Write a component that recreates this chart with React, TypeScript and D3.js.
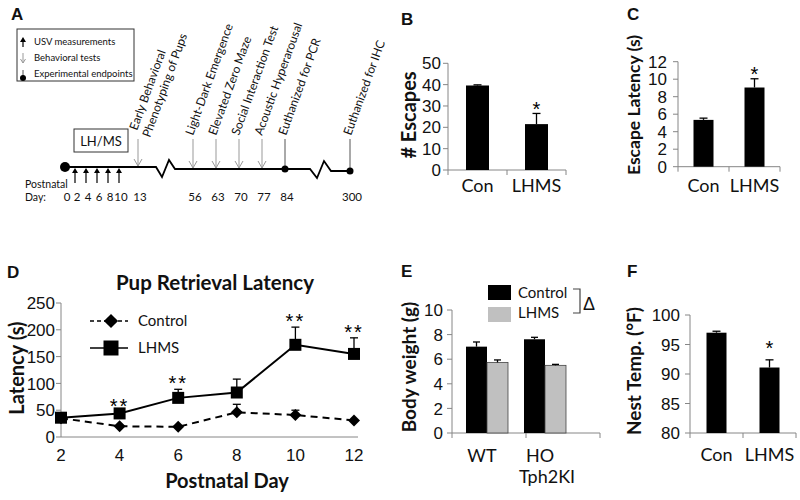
import React from "react";
import * as d3 from "d3";

// ---------- Panel A: timeline ----------
const legendItemsA = ["USV measurements", "Behavioral tests", "Experimental endpoints"];
const usvDays = [2, 4, 6, 8, 10];
const dayLabels = [0, 2, 4, 6, 8, 10, 13, 56, 63, 70, 77, 84, 300];
const testDays = [13, 56, 63, 70, 77];
const testLabels = [
  ["Early Behavioral", "Phenotyping of Pups"],
  ["Light-Dark Emergence"],
  ["Elevated Zero Maze"],
  ["Social Interaction Test"],
  ["Acoustic Hyperarousal"],
];
const endpointDays = [84, 300];
const endpointLabels = ["Euthanized for PCR", "Euthanized for IHC"];

// ---------- Panel B ----------
const bCategories = ["Con", "LHMS"];
const bValues = [39.6, 21.5];
const bErrors = [0.3, 5.0];
const bSig = ["", "*"];
const bTicks = [0, 10, 20, 30, 40, 50];

// ---------- Panel C ----------
const cCategories = ["Con", "LHMS"];
const cValues = [5.35, 9.05];
const cErrors = [0.2, 1.0];
const cSig = ["", "*"];
const cTicks = [0, 2, 4, 6, 8, 10, 12];

// ---------- Panel D ----------
const dDays = [2, 4, 6, 8, 10, 12];
const dControl = [35, 20, 19, 46, 41, 31];
const dControlErr = [0, 0, 0, 15, 9, 0];
const dLHMS = [36, 44, 73, 83, 172, 155];
const dLHMSErr = [0, 3, 16, 25, 33, 30];
const dSig = ["", "**", "**", "", "**", "**"];
const dYTicks = [0, 50, 100, 150, 200, 250];

// ---------- Panel E ----------
const eGroups = ["WT", "HO"];
const eSeries = ["Control", "LHMS"];
const eControl = [7.02, 7.62];
const eControlErr = [0.38, 0.16];
const eLHMS = [5.74, 5.5];
const eLHMSErr = [0.2, 0.08];
const eTicks = [0, 2, 4, 6, 8, 10];

// ---------- Panel F ----------
const fCategories = ["Con", "LHMS"];
const fValues = [97.0, 91.1];
const fErrors = [0.25, 1.3];
const fSig = ["", "*"];
const fTicks = [80, 85, 90, 95, 100];

const AX = "#868686";
const NUM = "'Liberation Sans', Arial, sans-serif";
const CAL = "Lato, 'Open Sans', sans-serif";

function ErrBar({ cx, y0, y1, w = 4 }: { cx: number; y0: number; y1: number; w?: number }) {
  return (
    <g stroke="#000" strokeWidth={1.3}>
      <line x1={cx} x2={cx} y1={y0} y2={y1} />
      <line x1={cx - w} x2={cx + w} y1={y1} y2={y1} />
    </g>
  );
}

function YAxis({ y, ticks, x0, gap, size = 17 }: any) {
  return (
    <g>
      <line x1={x0} x2={x0} y1={y(ticks[0])} y2={y(ticks[ticks.length - 1])} stroke={AX} />
      {ticks.map((t: number) => (
        <g key={t}>
          <line x1={x0 - 5} x2={x0} y1={y(t)} y2={y(t)} stroke={AX} />
          <text x={x0 - gap} y={y(t)} dy="0.36em" textAnchor="end" fontFamily={NUM} fontSize={size} fill="#111">
            {t}
          </text>
        </g>
      ))}
    </g>
  );
}

function SimpleBars({ cats, vals, errs, sig, ticks, y, x, barW, gap, catY, starGap, title, titleX, titleY, titleSize }: any) {
  const [x0, x1] = x.range();
  const base = y(ticks[0]);
  const bounds = [x0, ...cats.map((c: string) => x(c) + x.bandwidth())];
  return (
    <g>
      <YAxis y={y} ticks={ticks} x0={x0} gap={gap} />
      <line x1={x0} x2={x1} y1={base} y2={base} stroke={AX} />
      {bounds.map((b: number, i: number) => (
        <line key={i} x1={b} x2={b} y1={base} y2={base + 5} stroke={AX} />
      ))}
      {cats.map((c: string, i: number) => {
        const cx = x(c) + x.bandwidth() / 2;
        const top = y(vals[i]);
        const et = y(vals[i] + errs[i]);
        return (
          <g key={c}>
            <rect x={cx - barW / 2} y={top} width={barW} height={base - top} fill="#000" />
            <ErrBar cx={cx} y0={top} y1={et} />
            <text x={cx} y={catY} textAnchor="middle" fontFamily={CAL} fontSize={18} fill="#111">
              {c}
            </text>
            {sig[i] && (
              <text x={cx} y={et - starGap + 11} textAnchor="middle" fontFamily={NUM} fontSize={20}>
                {sig[i]}
              </text>
            )}
          </g>
        );
      })}
      <text
        transform={`translate(${titleX},${titleY}) rotate(-90)`}
        textAnchor="middle"
        fontFamily={CAL}
        fontWeight="bold"
        fontSize={titleSize}
        fill="#111"
      >
        {title}
      </text>
    </g>
  );
}

function PanelLetter({ x, y, t }: any) {
  return (
    <text x={x} y={y} fontFamily={NUM} fontWeight="bold" fontSize={17} fill="#111">
      {t}
    </text>
  );
}

export default function App() {
  // Panel A scale (broken timeline, piecewise)
  const tl = d3.scaleLinear().domain([0, 2, 10, 13, 56, 84, 300]).range([65, 75, 119, 138, 193, 285, 350]);
  const lineY = (d: number) => (d <= 13 ? 167 : d <= 84 ? 169 : 171);

  // B
  const yB = d3.scaleLinear().domain([0, 50]).range([170, 63.3]);
  const xB = d3.scaleBand<string>().domain(bCategories).range([448, 566]);
  // C
  const yC = d3.scaleLinear().domain([0, 12]).range([166.7, 61.7]);
  const xC = d3.scaleBand<string>().domain(cCategories).range([678, 780]);
  // F
  const yF = d3.scaleLinear().domain([80, 100]).range([433, 315]);
  const xF = d3.scaleBand<string>().domain(fCategories).range([690, 796]);
  // D
  const xD = d3.scaleLinear().domain([2, 12]).range([61, 354]);
  const yD = d3.scaleLinear().domain([0, 250]).range([437, 303]);
  const lineD = d3
    .line<number>()
    .x((_, i) => xD(dDays[i]))
    .y((v) => yD(v));
  const sq = d3.symbol(d3.symbolSquare, 144)()!;
  const dia = d3.symbol(d3.symbolSquare, 72)()!;
  const sqL = d3.symbol(d3.symbolSquare, 225)()!;
  const diaL = d3.symbol(d3.symbolSquare, 100)()!;
  // E
  const yE = d3.scaleLinear().domain([0, 10]).range([433, 310]);
  const xE = d3.scalePoint<string>().domain(eGroups).range([487, 545]);
  const eBarW = 21;

  return (
    <svg width={800} height={500} style={{ position: "absolute", left: 0, top: 0, background: "#fff" }}>
      <rect width={800} height={500} fill="#fff" />
      {/* ===== Panel A ===== */}
      <PanelLetter x={11} y={20} t="A" />
      <rect x={17} y={29} width={117} height={52} fill="none" stroke="#333" strokeWidth={1} />
      <g>
        <line x1={23} x2={23} y1={47} y2={40} stroke="#000" strokeWidth={1.2} />
        <path d="M23,37 L26,42 L20,42 Z" fill="#000" />
        <line x1={23} x2={23} y1={53} y2={63} stroke="#999" strokeWidth={1} />
        <path d="M20.5,59 L23,63 L25.5,59" fill="none" stroke="#999" strokeWidth={1} />
        <line x1={23} x2={23} y1={70} y2={77} stroke="#555" strokeWidth={1} />
        <circle cx={23} cy={78} r={3} fill="#000" />
        {legendItemsA.map((t, i) => (
          <text key={t} x={34} y={45 + i * 16} fontFamily={CAL} fontSize={9.5} fill="#111">
            {t}
          </text>
        ))}
      </g>
      {/* LH/MS box */}
      <rect x={74} y={129} width={54} height={23} fill="none" stroke="#333" strokeWidth={1} />
      <text x={101} y={146} textAnchor="middle" fontFamily={CAL} fontSize={13} fill="#111">
        LH/MS
      </text>
      {/* timeline */}
      <path
        d={`M${tl(0)},167 H156 L162,177 L169,160 L175,169 H310 L317,178 L324,161 L331,171 H${tl(300)}`}
        fill="none"
        stroke="#000"
        strokeWidth={1.8}
      />
      <circle cx={tl(0)} cy={167} r={5} fill="#000" />
      {usvDays.map((d) => (
        <g key={d}>
          <line x1={tl(d)} x2={tl(d)} y1={183} y2={171} stroke="#000" strokeWidth={1.2} />
          <path d={`M${tl(d)},168 L${tl(d) + 3},173 L${tl(d) - 3},173 Z`} fill="#000" />
        </g>
      ))}
      {testDays.map((d, i) => (
        <g key={d}>
          <line x1={tl(d)} x2={tl(d)} y1={139} y2={lineY(d) - 1} stroke="#999" strokeWidth={1} />
          <path
            d={`M${tl(d) - 4},${lineY(d) - 8} L${tl(d)},${lineY(d) - 1} L${tl(d) + 4},${lineY(d) - 8}`}
            fill="none"
            stroke="#999"
            strokeWidth={1}
          />
          {testLabels[i].map((lab, j) => (
            <text
              key={lab}
              transform={`translate(${tl(d) + (testLabels[i].length > 1 ? (j === 0 ? -1 : 12) : 0)},${
                testLabels[i].length > 1 ? (j === 0 ? 131 : 138) : 136
              }) rotate(-70)`}
              fontFamily={CAL}
              fontSize={12}
              fill="#111"
            >
              {lab}
            </text>
          ))}
        </g>
      ))}
      {endpointDays.map((d, i) => (
        <g key={d}>
          <line x1={tl(d)} x2={tl(d)} y1={139} y2={lineY(d)} stroke="#555" strokeWidth={1} />
          <circle cx={tl(d)} cy={lineY(d)} r={3.5} fill="#000" />
          <text transform={`translate(${tl(d) + 1},136) rotate(-70)`} fontFamily={CAL} fontSize={12} fill="#111">
            {endpointLabels[i]}
          </text>
        </g>
      ))}
      <text x={25} y={188} fontFamily={CAL} fontSize={10.5} fill="#111">
        Postnatal
      </text>
      <text x={25} y={201} fontFamily={CAL} fontSize={10.5} fill="#111">
        Day:
      </text>
      {dayLabels.map((d) => (
        <text key={d} x={tl(d) + 2} y={201} textAnchor="middle" fontFamily={CAL} fontSize={11.5} fill="#111">
          {d}
        </text>
      ))}

      {/* ===== Panel B ===== */}
      <PanelLetter x={401} y={25} t="B" />
      <SimpleBars
        cats={bCategories}
        vals={bValues}
        errs={bErrors}
        sig={bSig}
        ticks={bTicks}
        y={yB}
        x={xB}
        barW={23}
        gap={7}
        catY={192}
        starGap={8}
        title="# Escapes"
        titleX={416}
        titleY={115}
        titleSize={20}
      />
      {/* ===== Panel C ===== */}
      <PanelLetter x={627} y={20} t="C" />
      <SimpleBars
        cats={cCategories}
        vals={cValues}
        errs={cErrors}
        sig={cSig}
        ticks={cTicks}
        y={yC}
        x={xC}
        barW={20}
        gap={11}
        catY={192}
        starGap={9}
        title="Escape Latency (s)"
        titleX={640}
        titleY={105}
        titleSize={17.5}
      />

      {/* ===== Panel D ===== */}
      <PanelLetter x={7} y={278} t="D" />
      <text x={215} y={290} textAnchor="middle" fontFamily={CAL} fontWeight="bold" fontSize={20.5} fill="#111">
        Pup Retrieval Latency
      </text>
      <YAxis y={yD} ticks={dYTicks} x0={61} gap={6} />
      <line x1={61} x2={358} y1={437} y2={437} stroke={AX} />
      {dDays.map((d) => (
        <text key={d} x={xD(d)} y={461} textAnchor="middle" fontFamily={NUM} fontSize={17} fill="#111">
          {d}
        </text>
      ))}
      <text x={227} y={488} textAnchor="middle" fontFamily={CAL} fontWeight="bold" fontSize={20} fill="#111">
        Postnatal Day
      </text>
      <text
        transform="translate(24,368) rotate(-90)"
        textAnchor="middle"
        fontFamily={CAL}
        fontWeight="bold"
        fontSize={20}
        fill="#111"
      >
        Latency (s)
      </text>
      {dDays.map((d, i) =>
        dControlErr[i] > 0 ? (
          <ErrBar key={"ce" + d} cx={xD(d)} y0={yD(dControl[i])} y1={yD(dControl[i] + dControlErr[i])} />
        ) : null
      )}
      {dDays.map((d, i) =>
        dLHMSErr[i] > 0 ? (
          <ErrBar key={"le" + d} cx={xD(d)} y0={yD(dLHMS[i])} y1={yD(dLHMS[i] + dLHMSErr[i])} />
        ) : null
      )}
      <path d={lineD(dControl)!} fill="none" stroke="#000" strokeWidth={2} strokeDasharray="7,5" />
      {dDays.map((d, i) => (
        <path key={"cd" + d} d={dia} transform={`translate(${xD(d)},${yD(dControl[i])}) rotate(45)`} fill="#000" />
      ))}
      <path d={lineD(dLHMS)!} fill="none" stroke="#000" strokeWidth={2} />
      {dDays.map((d, i) => (
        <path key={"ld" + d} d={sq} transform={`translate(${xD(d)},${yD(dLHMS[i])})`} fill="#000" />
      ))}
      {dDays.map((d, i) =>
        dSig[i] ? (
          <text
            key={"s" + d}
            x={xD(d)}
            y={yD(dLHMS[i] + dLHMSErr[i]) - 10 + 11}
            textAnchor="middle"
            fontFamily={NUM}
            fontSize={20}
            letterSpacing={2}
          >
            {dSig[i]}
          </text>
        ) : null
      )}
      {/* legend D */}
      <line x1={90} x2={128} y1={321} y2={321} stroke="#000" strokeWidth={1.5} strokeDasharray="4,3" />
      <path d={diaL} transform="translate(111,321) rotate(45)" fill="#000" />
      <text x={138} y={326} fontFamily={CAL} fontSize={15} fill="#111">
        Control
      </text>
      <line x1={90} x2={128} y1={348} y2={348} stroke="#000" strokeWidth={1.5} />
      <path d={sqL} transform="translate(111,348)" fill="#000" />
      <text x={138} y={353} fontFamily={CAL} fontSize={15} fill="#111">
        LHMS
      </text>

      {/* ===== Panel E ===== */}
      <PanelLetter x={401} y={277} t="E" />
      <YAxis y={yE} ticks={eTicks} x0={452} gap={9} />
      <line x1={452} x2={600} y1={433} y2={433} stroke={AX} />
      {[452, 526, 600].map((b) => (
        <line key={b} x1={b} x2={b} y1={433} y2={438} stroke={AX} />
      ))}
      {eGroups.map((g, i) => {
        const cx = xE(g)!;
        return (
          <g key={g}>
            <rect x={cx - eBarW} y={yE(eControl[i])} width={eBarW} height={433 - yE(eControl[i])} fill="#000" />
            <rect
              x={cx}
              y={yE(eLHMS[i])}
              width={eBarW}
              height={433 - yE(eLHMS[i])}
              fill="#c0c0c0"
              stroke="#444"
              strokeWidth={0.8}
            />
            <ErrBar cx={cx - eBarW / 2} y0={yE(eControl[i])} y1={yE(eControl[i] + eControlErr[i])} w={3.5} />
            <ErrBar cx={cx + eBarW / 2} y0={yE(eLHMS[i])} y1={yE(eLHMS[i] + eLHMSErr[i])} w={3.5} />
            <text x={cx - 5} y={462} textAnchor="middle" fontFamily={CAL} fontSize={18} fill="#111">
              {g}
            </text>
          </g>
        );
      })}
      <text x={547} y={483} textAnchor="middle" fontFamily={CAL} fontSize={18} fill="#111">
        Tph2KI
      </text>
      <text
        transform="translate(416,367) rotate(-90)"
        textAnchor="middle"
        fontFamily={CAL}
        fontWeight="bold"
        fontSize={19}
        fill="#111"
      >
        Body weight (g)
      </text>
      {/* legend E */}
      <rect x={488} y={285} width={23} height={15} fill="#000" />
      <rect x={488} y={307} width={23} height={15} fill="#c0c0c0" />
      <text x={518} y={298} fontFamily={CAL} fontSize={15} fill="#111">
        {eSeries[0]}
      </text>
      <text x={518} y={318} fontFamily={CAL} fontSize={15} fill="#111">
        {eSeries[1]}
      </text>
      <path d="M573,289 H580 V313 H573" fill="none" stroke="#444" strokeWidth={1.2} />
      <text x={583} y={310} fontFamily={NUM} fontSize={18} fill="#111">
        Δ
      </text>

      {/* ===== Panel F ===== */}
      <PanelLetter x={627} y={277} t="F" />
      <SimpleBars
        cats={fCategories}
        vals={fValues}
        errs={fErrors}
        sig={fSig}
        ticks={fTicks}
        y={yF}
        x={xF}
        barW={20}
        gap={10}
        catY={461}
        starGap={16}
        title="Nest Temp. (°F)"
        titleX={641}
        titleY={371}
        titleSize={19}
      />
    </svg>
  );
}
